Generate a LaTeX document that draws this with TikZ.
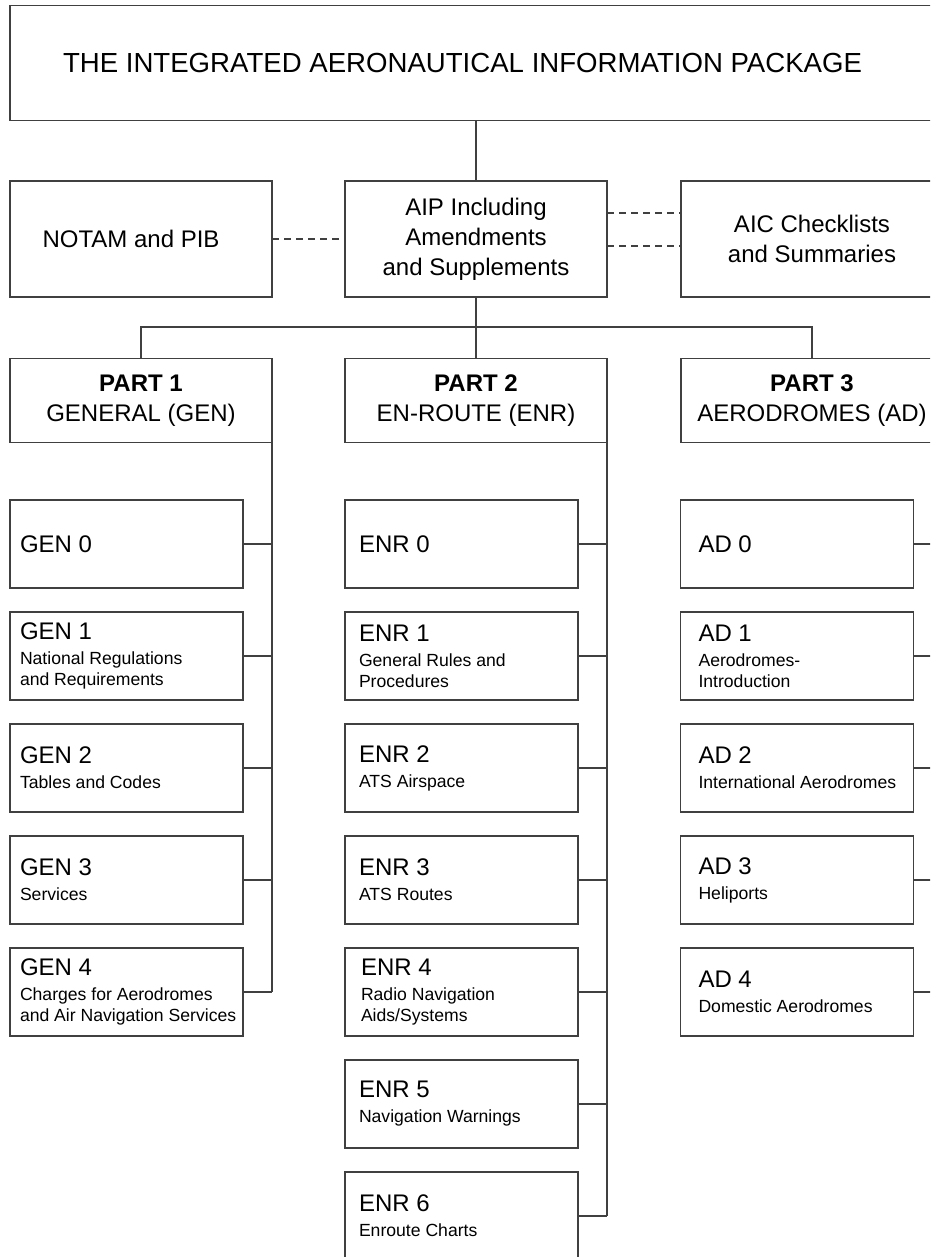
\documentclass[tikz,border=0pt]{standalone}
\usepackage{fontspec}
\setmainfont{Liberation Sans}
\usepackage{tikz}

% title line + small description lines, with a left indent
\newcommand{\boxtxt}[3][10pt]{\raggedright\leftskip=#1\relax\spaceskip=0pt\xspaceskip=0pt #2\par\ifx&#3&\else\vspace{4pt}{\fontsize{17.6}{21}\selectfont #3\par}\fi}

\begin{document}
\begin{tikzpicture}[x=1pt,y=-1pt,
	box/.style={draw=black!75, line width=1.3pt, rectangle, outer sep=0pt, inner sep=0pt, align=center, font=\fontsize{24}{30}\selectfont},
	big/.style={box, minimum width=262pt, minimum height=116pt},
	part/.style={box, minimum width=262pt, minimum height=84pt},
	sub/.style={box, text width=233pt, minimum height=88pt, align=left, font=\fontsize{24}{28}\selectfont},
	link/.style={draw=black!75, line width=1.3pt},
	dashlink/.style={link, dash pattern=on 7pt off 5pt}]
		\useasboundingbox (0,0) rectangle (930,1257);
		\clip (0,0) rectangle (930,1257);
		
		\node[box, minimum width=935pt, minimum height=115pt, font=\fontsize{27.6}{33}\selectfont] (title) at (477.5,63) {\hspace*{-30pt}THE INTEGRATED AERONAUTICAL INFORMATION PACKAGE};
		
		\node[big] (notam) at (141,239) {\hspace*{-20pt}NOTAM and PIB};
		\node[big] (aip) at (476,239) {AIP Including\\Amendments\\and Supplements};
		\node[big] (aic) at (812,239) {AIC Checklists\\and Summaries};
		
		\node[part] (p1) at (141,400.5) {\textbf{PART 1}\\GENERAL (GEN)};
		\node[part] (p2) at (476,400.5) {\textbf{PART 2}\\EN-ROUTE (ENR)};
		\node[part] (p3) at (812,400.5) {\textbf{PART 3}\\AERODROMES (AD)};
		\coordinate (fork) at (476,327);
		
		% part 1
		\node[sub] (g0) at (126.5,544) {\boxtxt{GEN 0}{}};
		\node[sub] (g1) at (126.5,656) {\boxtxt{GEN 1}{National Regulations\\and Requirements}};
		\node[sub] (g2) at (126.5,768) {\boxtxt{GEN 2}{Tables and Codes}};
		\node[sub] (g3) at (126.5,880) {\boxtxt{GEN 3}{Services}};
		\node[sub] (g4) at (126.5,992) {\boxtxt{GEN 4}{Charges for Aerodromes\\and Air Navigation Services}};
		
		% part 2
		\node[sub] (e0) at (461.5,544) {\boxtxt[14pt]{ENR 0}{}};
		\node[sub] (e1) at (461.5,656) {\boxtxt[14pt]{ENR 1}{General Rules and\\Procedures}};
		\node[sub] (e2) at (461.5,768) {\boxtxt[14pt]{ENR 2}{ATS Airspace}};
		\node[sub] (e3) at (461.5,880) {\boxtxt[14pt]{ENR 3}{ATS Routes}};
		\node[sub] (e4) at (461.5,992) {\boxtxt[16pt]{ENR 4}{Radio Navigation\\Aids/Systems}};
		\node[sub] (e5) at (461.5,1104) {\boxtxt[14pt]{ENR 5}{Navigation Warnings}};
		\node[sub] (e6) at (461.5,1216) {\boxtxt[14pt]{ENR 6}{Enroute Charts}};
		
		% part 3
		\node[sub] (a0) at (797,544) {\boxtxt[18pt]{AD 0}{}};
		\node[sub] (a1) at (797,656) {\boxtxt[18pt]{AD 1}{Aerodromes-\\Introduction}};
		\node[sub] (a2) at (797,768) {\boxtxt[18pt]{AD 2}{International Aerodromes}};
		\node[sub] (a3) at (797,880) {\boxtxt[18pt]{AD 3}{Heliports}};
		\node[sub] (a4) at (797,992) {\boxtxt[18pt]{AD 4}{Domestic Aerodromes}};
		
		\draw[link] (title.south -| aip.north) -- (aip.north);
		\draw[dashlink] (notam.east) -- (aip.west);
		\draw[dashlink] ([yshift=26pt]aip.east) -- ([yshift=26pt]aic.west);
		\draw[dashlink] ([yshift=-7pt]aip.east) -- ([yshift=-7pt]aic.west);
		\draw[link] (aip.south) -- (p2.north);
		\draw[link] (p1.north) |- (fork) -| (p3.north);
		
		\draw[link] (p1.south east) -- (g4.east -| p1.south east);
		\draw[link] (g0.east) -- (g0.east -| p1.east);
		\draw[link] (g1.east) -- (g1.east -| p1.east);
		\draw[link] (g2.east) -- (g2.east -| p1.east);
		\draw[link] (g3.east) -- (g3.east -| p1.east);
		\draw[link] (g4.east) -- (g4.east -| p1.east);
		
		\draw[link] (p2.south east) -- (e6.east -| p2.south east);
		\draw[link] (e0.east) -- (e0.east -| p2.east);
		\draw[link] (e1.east) -- (e1.east -| p2.east);
		\draw[link] (e2.east) -- (e2.east -| p2.east);
		\draw[link] (e3.east) -- (e3.east -| p2.east);
		\draw[link] (e4.east) -- (e4.east -| p2.east);
		\draw[link] (e5.east) -- (e5.east -| p2.east);
		\draw[link] (e6.east) -- (e6.east -| p2.east);
		
		\draw[link] (p3.south east) -- (a4.east -| p3.south east);
		\draw[link] (a0.east) -- (a0.east -| p3.east);
		\draw[link] (a1.east) -- (a1.east -| p3.east);
		\draw[link] (a2.east) -- (a2.east -| p3.east);
		\draw[link] (a3.east) -- (a3.east -| p3.east);
		\draw[link] (a4.east) -- (a4.east -| p3.east);
\end{tikzpicture}
\end{document}
